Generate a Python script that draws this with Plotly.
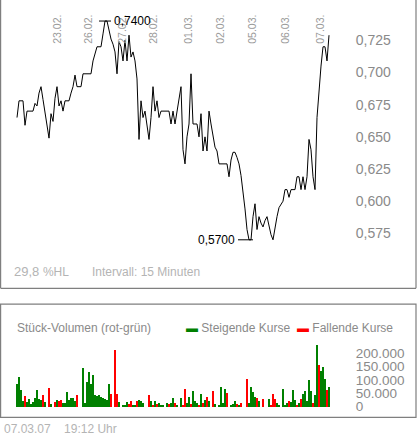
# encoding=utf-8

import plotly.graph_objects as go

W, H = 417, 443

# 15-minute closing prices, one per interval
price = [
	0.665, 0.678, 0.678, 0.678, 0.659, 0.670, 0.670, 0.670, 0.670, 0.676,
	0.674, 0.684, 0.689, 0.679, 0.670, 0.660, 0.649, 0.668, 0.662, 0.680,
	0.689, 0.674, 0.678, 0.670, 0.678, 0.678, 0.678, 0.684, 0.689, 0.698,
	0.689, 0.689, 0.689, 0.699, 0.699, 0.699, 0.699, 0.699, 0.709, 0.715,
	0.720, 0.720, 0.720, 0.730, 0.740, 0.740, 0.733, 0.726, 0.722, 0.716,
	0.699, 0.724, 0.720, 0.709, 0.725, 0.709, 0.729, 0.712, 0.716, 0.709,
	0.695, 0.648, 0.678, 0.665, 0.670, 0.660, 0.648, 0.665, 0.689, 0.670,
	0.678, 0.665, 0.670, 0.670, 0.670, 0.670, 0.670, 0.660, 0.670, 0.660,
	0.670, 0.678, 0.689, 0.640, 0.629, 0.650, 0.660, 0.699, 0.660, 0.660,
	0.660, 0.650, 0.668, 0.639, 0.650, 0.639, 0.670, 0.660, 0.650, 0.642,
	0.639, 0.629, 0.629, 0.629, 0.629, 0.629, 0.619, 0.632, 0.638, 0.638,
	0.634, 0.629, 0.620, 0.609, 0.594, 0.578, 0.570, 0.570, 0.588, 0.598,
	0.578, 0.588, 0.583, 0.580, 0.585, 0.588, 0.580, 0.574, 0.570, 0.580,
	0.588, 0.595, 0.598, 0.600, 0.609, 0.609, 0.603, 0.609, 0.609, 0.609,
	0.619, 0.619, 0.609, 0.619, 0.609, 0.619, 0.648, 0.640, 0.619, 0.609,
	0.665, 0.689, 0.705, 0.720, 0.720, 0.709, 0.729,
]

# volume per interval in thousand shares, 1 = rising (green), 0 = falling (red)
vol_k = [
	85, 111, 63, 22, 41, 18, 30, 10, 18, 33, 63, 30, 26, 44, 18, 0, 70, 10, 0, 20,
	26, 22, 26, 15, 15, 55, 26, 33, 33, 22, 44, 0, 0, 148, 15, 93, 133, 85, 122, 44,
	41, 44, 37, 33, 30, 26, 85, 48, 0, 215, 48, 18, 0, 7, 7, 18, 12, 22, 7, 7,
	22, 26, 22, 15, 0, 0, 44, 22, 7, 22, 12, 15, 7, 7, 0, 15, 12, 15, 33, 15,
	7, 0, 33, 7, 67, 15, 37, 12, 59, 22, 15, 7, 48, 15, 26, 37, 22, 0, 59, 10,
	0, 7, 74, 15, 67, 52, 0, 7, 12, 22, 10, 7, 15, 0, 0, 104, 15, 74, 55, 37,
	33, 22, 0, 30, 0, 0, 30, 7, 48, 30, 15, 7, 0, 67, 7, 15, 22, 18, 63, 26,
	7, 15, 30, 48, 59, 22, 100, 59, 15, 44, 233, 159, 137, 152, 104, 63, 74,
]
vol_up = [
	1, 1, 1, 1, 0, 1, 1, 1, 1, 1, 1, 1, 1, 0, 1, 1, 0, 1, 1, 0,
	1, 0, 0, 1, 1, 1, 1, 1, 1, 1, 0, 1, 1, 1, 1, 1, 1, 1, 1, 1,
	1, 1, 1, 1, 1, 1, 1, 0, 1, 0, 0, 1, 1, 1, 1, 1, 0, 0, 1, 1,
	0, 1, 1, 1, 1, 1, 0, 1, 0, 1, 0, 1, 1, 1, 1, 1, 0, 1, 1, 0,
	1, 1, 1, 0, 0, 1, 1, 0, 1, 1, 1, 0, 1, 0, 1, 0, 1, 1, 0, 1,
	1, 1, 1, 1, 1, 0, 1, 1, 1, 1, 0, 1, 0, 1, 1, 0, 1, 1, 1, 1,
	0, 1, 1, 0, 1, 1, 1, 0, 0, 0, 1, 1, 1, 1, 1, 1, 0, 1, 1, 1,
	0, 1, 0, 1, 1, 1, 1, 1, 0, 1, 1, 0, 1, 1, 1, 0, 1,
]

# day labels and the interval index where each one sits
day_lbl = ['23.02.', '26.02.', '27.02.', '28.02.', '01.03.', '02.03.', '05.03.', '06.03.', '07.03.']
day_idx = [20, 35.5, 52.5, 68, 85.5, 101.5, 117.5, 134, 151.5]

price_ticks = [0.575, 0.600, 0.625, 0.650, 0.675, 0.700, 0.725]
vol_ticks = [0, 50000, 100000, 150000, 200000]

FONT = 'Liberation Sans, Arial, sans-serif'
GREEN = '#008000'
RED = '#ff0000'
GRAY = '#8a8a8a'
LIGHT = '#b4b4b4'


def px(x):
	return x / W


def py(y):
	return 1 - y / H


xx = list(range(len(price)))
volumes = [v * 1000 for v in vol_k]
colors = [GREEN if u else RED for u in vol_up]

fig = go.Figure()
fig.add_trace(go.Scatter(x=xx, y=price, mode='lines', line=dict(color='black', width=1),
	xaxis='x', yaxis='y', showlegend=False, hoverinfo='skip'))
fig.add_trace(go.Bar(x=list(range(len(volumes))), y=volumes, marker=dict(color=colors, line=dict(width=0)),
	width=0.55, xaxis='x2', yaxis='y2', showlegend=False, hoverinfo='skip'))

xrange = [-3.5, 166.5]
xdom = [px(10), px(350)]
fig.update_layout(
	width=W, height=H,
	margin=dict(l=0, r=0, t=0, b=0),
	paper_bgcolor='white', plot_bgcolor='white',
	separators=',.',
	font=dict(family=FONT, size=12, color=GRAY),
	xaxis=dict(domain=xdom, range=xrange, visible=False, fixedrange=True),
	yaxis=dict(domain=[py(260), py(10)], range=[0.5575, 0.7487], side='right',
		tickvals=price_ticks, tickformat='.3f', showgrid=False, zeroline=False,
		showline=False, ticks='outside', ticklen=2, tickcolor='white',
		tickfont=dict(size=14, color=GRAY)),
	xaxis2=dict(domain=xdom, range=xrange, visible=False, anchor='y2'),
	yaxis2=dict(domain=[py(414), py(345)], range=[-3704, 251852], side='right', anchor='x2',
		tickvals=vol_ticks, tickformat=',d', showgrid=False, zeroline=False,
		showline=False, ticks='outside', ticklen=2, tickcolor='white',
		tickfont=dict(size=13.5, color=GRAY)),
	bargap=0,
)

# panel frames
line = dict(color='#7f7f7f', width=1.2)
fig.add_shape(type='line', xref='paper', yref='paper', x0=px(0.6), x1=px(0.6), y0=py(0), y1=py(293), line=line)
fig.add_shape(type='line', xref='paper', yref='paper', x0=px(416), x1=px(416), y0=py(0), y1=py(293), line=line)
fig.add_shape(type='line', xref='paper', yref='paper', x0=px(0.6), x1=px(416), y0=py(293), y1=py(293), line=line)
fig.add_shape(type='rect', xref='paper', yref='paper', x0=px(0.6), x1=px(416), y0=py(424), y1=py(309), line=line)

# day labels, rotated, at the top of the price panel
for lbl, i in zip(day_lbl, day_idx):
	fig.add_annotation(x=i, xref='x', y=py(47), yref='paper', text=lbl, textangle=-90,
		showarrow=False, xanchor='center', yanchor='bottom',
		font=dict(size=10.5, color='#9a9a9a'))

# high / low markers
pmax = max(price)
pmin = min(price)
imax = price.index(pmax)
imin = price.index(pmin)
fig.add_shape(type='line', xref='x', yref='y', x0=imax - 3, x1=imax + 3, y0=pmax, y1=pmax,
	line=dict(color='black', width=1))
fig.add_annotation(x=imax + 3.3, y=pmax, xref='x', yref='y', text=f'{pmax:.4f}'.replace('.', ','),
	showarrow=False, xanchor='left', yanchor='middle', font=dict(size=12, color='black'))
fig.add_shape(type='line', xref='x', yref='y', x0=imin - 5.5, x1=imin + 2, y0=pmin, y1=pmin,
	line=dict(color='black', width=1))
fig.add_annotation(x=imin - 5.8, y=pmin, xref='x', yref='y', text=f'{pmin:.4f}'.replace('.', ','),
	showarrow=False, xanchor='right', yanchor='middle', font=dict(size=12, color='black'))

# footer of price panel
hl = (pmax - pmin) / pmin * 100
fig.add_annotation(x=px(12), y=py(276), xref='paper', yref='paper',
	text=f'{hl:.1f}'.replace('.', ',') + ' <span style="font-size:12px">%HL</span>',
	showarrow=False, xanchor='left', yanchor='middle', font=dict(size=13, color=LIGHT))
fig.add_annotation(x=px(90), y=py(276), xref='paper', yref='paper', text='Intervall: 15 Minuten',
	showarrow=False, xanchor='left', yanchor='middle', font=dict(size=12, color=LIGHT))

# volume panel header / legend
fig.add_annotation(x=px(15), y=py(333), xref='paper', yref='paper', text='Stück-Volumen (rot-grün)',
	showarrow=False, xanchor='left', yanchor='middle', font=dict(size=12, color=GRAY))
fig.add_annotation(x=px(184), y=py(333), xref='paper', yref='paper',
	text=f'<span style="color:{GREEN}">▬</span> Steigende Kurse',
	showarrow=False, xanchor='left', yanchor='middle', font=dict(size=12, color=GRAY))
fig.add_annotation(x=px(295), y=py(333), xref='paper', yref='paper',
	text=f'<span style="color:{RED}">▬</span> Fallende Kurse',
	showarrow=False, xanchor='left', yanchor='middle', font=dict(size=12, color=GRAY))

# date / time stamp
fig.add_annotation(x=px(2), y=py(436), xref='paper', yref='paper', text='07.03.07&nbsp;&nbsp;&nbsp;&nbsp;19:12 Uhr',
	showarrow=False, xanchor='left', yanchor='middle', font=dict(size=12, color=LIGHT))

fig.write_html("out.html", config=dict(displayModeBar=False),
	post_script="document.body.style.margin='0';")
